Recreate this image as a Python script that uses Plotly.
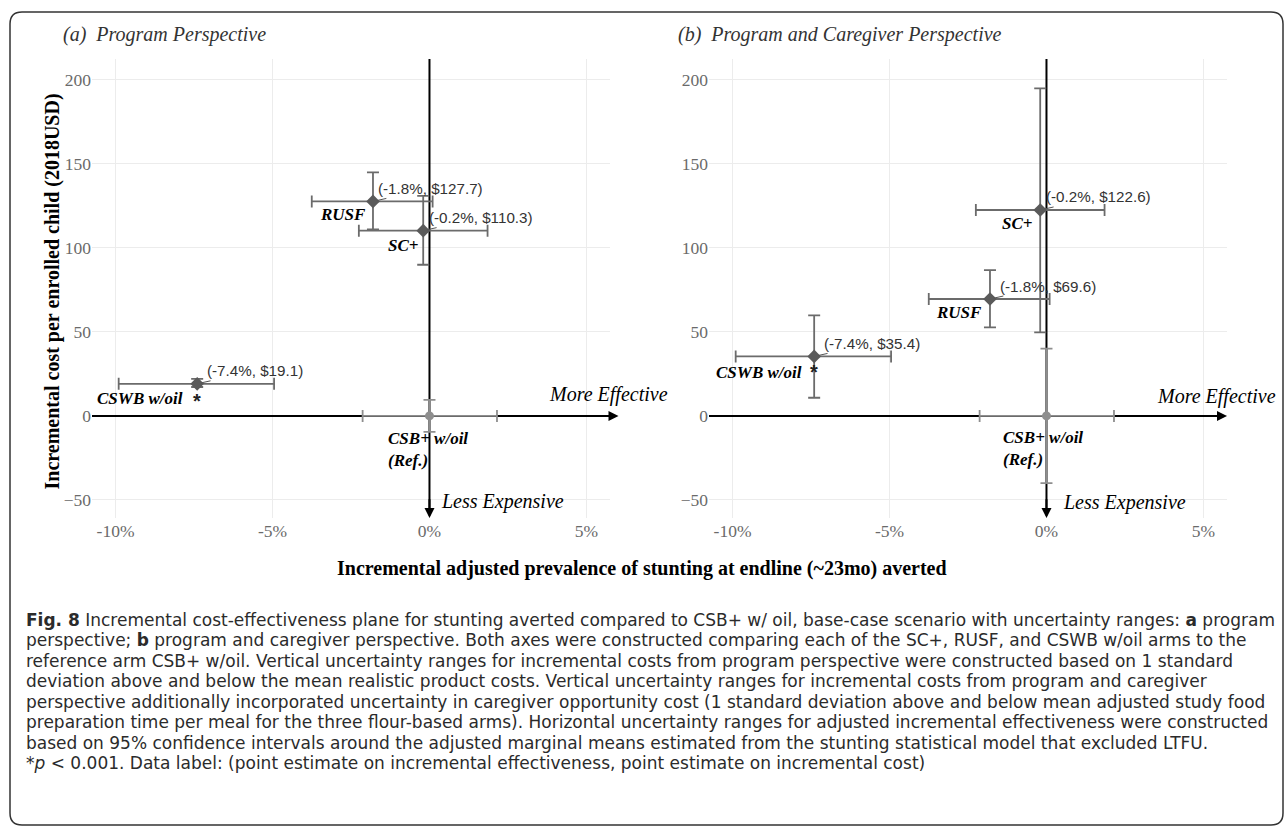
import plotly.graph_objects as go

# ---------------- data ----------------
arms = ["SC+", "RUSF", "CSWB w/oil"]
effect = [-0.2, -1.8, -7.4]
effect_low = [-2.25, -3.75, -9.9]
effect_high = [1.85, 0.1, -4.95]
cost_program = [110.3, 127.7, 19.1]
cost_program_low = [90.0, 111.0, 17.2]
cost_program_high = [131.0, 145.0, 22.0]
cost_caregiver = [122.6, 69.6, 35.4]
cost_caregiver_low = [49.7, 52.7, 10.8]
cost_caregiver_high = [195.0, 86.8, 59.9]
significant = [False, False, True]

ref_name = "CSB+ w/oil"
ref_effect = [0.0]
ref_effect_low = [-2.13]
ref_effect_high = [2.15]
ref_cost = [0.0]
ref_cost_program_low = [-9.5]
ref_cost_program_high = [9.5]
ref_cost_caregiver_low = [-40.0]
ref_cost_caregiver_high = [40.0]

x_ticks = [-10, -5, 0, 5]
x_tick_labels = ["-10%", "-5%", "0%", "5%"]
y_ticks = [-50, 0, 50, 100, 150, 200]

panel_titles = ["(a)\u00a0\u00a0Program Perspective",
                "(b)\u00a0\u00a0Program and Caregiver Perspective"]
y_title = "Incremental cost per enrolled child (2018USD)"
x_title = "Incremental adjusted prevalence of stunting at endline (~23mo) averted"

caption_lines = [
    "<b>Fig. 8</b> Incremental cost-effectiveness plane for stunting averted compared to CSB+ w/ oil, base-case scenario with uncertainty ranges: <b>a</b> program",
    "perspective; <b>b</b> program and caregiver perspective. Both axes were constructed comparing each of the SC+, RUSF, and CSWB w/oil arms to the",
    "reference arm CSB+ w/oil. Vertical uncertainty ranges for incremental costs from program perspective were constructed based on 1 standard",
    "deviation above and below the mean realistic product costs. Vertical uncertainty ranges for incremental costs from program and caregiver",
    "perspective additionally incorporated uncertainty in caregiver opportunity cost (1 standard deviation above and below mean adjusted study food",
    "preparation time per meal for the three flour-based arms). Horizontal uncertainty ranges for adjusted incremental effectiveness were constructed",
    "based on 95% confidence intervals around the adjusted marginal means estimated from the stunting statistical model that excluded LTFU.",
    "*<i>p</i> < 0.001. Data label: (point estimate on incremental effectiveness, point estimate on incremental cost)",
]

# ---------------- layout helpers ----------------
W, H = 1287, 829
def px(x):
    return x / W
def py(y):
    return 1 - y / H

X_RANGE = [-10.75, 5.75]
Y_RANGE = [-60.8, 212.5]

SERIF = "Liberation Serif"
SANS = "Liberation Sans"
ARM_COLOR = "#6b6b6b"
PT_COLOR = "#5a5a5a"
REF_COLOR = "#8e8e8e"

panels = [
    dict(xa="x", ya="y", cost=cost_program, lo=cost_program_low, hi=cost_program_high,
         rlo=ref_cost_program_low, rhi=ref_cost_program_high,
         name_pos={"SC+": (-0.84, 101.3), "RUSF": (-2.77, 119.8), "CSWB w/oil": (-9.21, 10.1)},
         star_dy=-10.2, ref_pos=(-1.38, -20.3), more=(5.69, 12.5), less=(2.32, -51.1),
         htip=6.02, title_x=61),
    dict(xa="x2", ya="y2", cost=cost_caregiver, lo=cost_caregiver_low, hi=cost_caregiver_high,
         rlo=ref_cost_caregiver_low, rhi=ref_cost_caregiver_high,
         name_pos={"SC+": (-0.93, 114.4), "RUSF": (-2.78, 61.8), "CSWB w/oil": (-9.17, 25.8)},
         star_dy=-9.2, ref_pos=(-1.44, -19.5), more=(5.40, 11.3), less=(2.48, -51.8),
         htip=5.75, title_x=676),
]

fig = go.Figure()
annotations = []
shapes = []

for p in panels:
    xa, ya = p["xa"], p["ya"]
    # reference arm
    fig.add_trace(go.Scatter(
        x=ref_effect, y=ref_cost, mode="markers", xaxis=xa, yaxis=ya, showlegend=False,
        marker=dict(symbol="circle", size=9, color=REF_COLOR),
        error_x=dict(type="data", symmetric=False,
                     array=[h - e for h, e in zip(ref_effect_high, ref_effect)],
                     arrayminus=[e - l for e, l in zip(ref_effect, ref_effect_low)],
                     color=REF_COLOR, thickness=1.8, width=6),
        error_y=dict(type="data", symmetric=False,
                     array=[h - c for h, c in zip(p["rhi"], ref_cost)],
                     arrayminus=[c - l for c, l in zip(ref_cost, p["rlo"])],
                     color=REF_COLOR, thickness=1.8, width=6),
        hoverinfo="skip"))
    # comparison arms
    fig.add_trace(go.Scatter(
        x=effect, y=p["cost"], mode="markers", xaxis=xa, yaxis=ya, showlegend=False,
        marker=dict(symbol="diamond", size=10.5, color=PT_COLOR),
        error_x=dict(type="data", symmetric=False,
                     array=[h - e for h, e in zip(effect_high, effect)],
                     arrayminus=[e - l for e, l in zip(effect, effect_low)],
                     color=ARM_COLOR, thickness=1.8, width=6),
        error_y=dict(type="data", symmetric=False,
                     array=[h - c for h, c in zip(p["hi"], p["cost"])],
                     arrayminus=[c - l for c, l in zip(p["cost"], p["lo"])],
                     color=ARM_COLOR, thickness=1.8, width=6),
        hoverinfo="skip"))

    # axis lines (beneath the data)
    shapes.append(dict(type="line", xref=xa, yref=ya, x0=X_RANGE[0], x1=p["htip"] - 0.2,
                       y0=0, y1=0, line=dict(color="black", width=2), layer="between"))
    shapes.append(dict(type="line", xref=xa, yref=ya, x0=0, x1=0,
                       y0=Y_RANGE[1], y1=Y_RANGE[0] + 4, line=dict(color="black", width=2),
                       layer="between"))
    # arrow heads
    annotations.append(dict(xref=xa, yref=ya, axref=xa, ayref=ya, x=p["htip"], y=0,
                            ax=p["htip"] - 0.6, ay=0, text="", showarrow=True, arrowhead=2,
                            arrowsize=1, arrowwidth=2, arrowcolor="black", standoff=0))
    annotations.append(dict(xref=xa, yref=ya, axref=xa, ayref=ya, x=0, y=Y_RANGE[0],
                            ax=0, ay=Y_RANGE[0] + 12, text="", showarrow=True, arrowhead=2,
                            arrowsize=1, arrowwidth=2, arrowcolor="black", standoff=0))

    # data labels with leader lines
    for arm, e, c in zip(arms, effect, p["cost"]):
        annotations.append(dict(xref=xa, yref=ya, x=e, y=c, ax=58, ay=-13,
                                text=f"({e:.1f}%, ${c:.1f})", showarrow=True, arrowhead=0,
                                arrowwidth=1, arrowcolor="#555555", standoff=4,
                                font=dict(family=SANS, size=15.2, color="#333333")))
    # arm names
    for arm in arms:
        nx, ny = p["name_pos"][arm]
        annotations.append(dict(xref=xa, yref=ya, x=nx, y=ny, text=f"<b><i>{arm}</i></b>",
                                showarrow=False, font=dict(family=SERIF, size=17, color="black")))
    # significance stars
    for e, c, s in zip(effect, p["cost"], significant):
        if s:
            annotations.append(dict(xref=xa, yref=ya, x=e, y=c + p["star_dy"], text="<b>*</b>",
                                    showarrow=False, font=dict(family=SANS, size=20, color="#222222")))
    # reference label
    annotations.append(dict(xref=xa, yref=ya, x=p["ref_pos"][0], y=p["ref_pos"][1],
                            text=f"<b><i>{ref_name}<br>(Ref.)</i></b>", align="left",
                            xanchor="left", showarrow=False,
                            font=dict(family=SERIF, size=17, color="black")))
    annotations.append(dict(xref=xa, yref=ya, x=p["more"][0], y=p["more"][1],
                            text="<i>More Effective</i>", showarrow=False,
                            font=dict(family=SERIF, size=20, color="black")))
    annotations.append(dict(xref=xa, yref=ya, x=p["less"][0], y=p["less"][1],
                            text="<i>Less Expensive</i>", showarrow=False,
                            font=dict(family=SERIF, size=20, color="black")))

# panel titles
for p, t in zip(panels, panel_titles):
    annotations.append(dict(xref="paper", yref="paper", x=px(p["title_x"]), y=py(35),
                            xanchor="left", yanchor="middle", text=f"<i>{t}</i>", showarrow=False,
                            font=dict(family=SERIF, size=20, color="#333333")))

# axis titles
annotations.append(dict(xref="paper", yref="paper", x=px(38), y=py(292), textangle=-90,
                        text=f"<b>{y_title}</b>", showarrow=False,
                        font=dict(family=SERIF, size=20, color="black")))
annotations.append(dict(xref="paper", yref="paper", x=px(642), y=py(582),
                        text=f"<b>{x_title}</b>", showarrow=False,
                        font=dict(family=SERIF, size=20, color="black")))

# caption
for i, line in enumerate(caption_lines):
    annotations.append(dict(xref="paper", yref="paper", x=px(25), y=py(620 + i * 20.45),
                            xanchor="left", yanchor="middle", text=line, showarrow=False,
                            borderpad=0,
                            font=dict(family="DejaVu Sans", size=17, color="#2b2b2b")))

# rounded frame
L, R, T, B, r = 10, 1283, 12, 825, 12
frame = (f"M {px(L + r)},{py(T)} L {px(R - r)},{py(T)} Q {px(R)},{py(T)} {px(R)},{py(T + r)} "
         f"L {px(R)},{py(B - r)} Q {px(R)},{py(B)} {px(R - r)},{py(B)} "
         f"L {px(L + r)},{py(B)} Q {px(L)},{py(B)} {px(L)},{py(B - r)} "
         f"L {px(L)},{py(T + r)} Q {px(L)},{py(T)} {px(L + r)},{py(T)} Z")
shapes.append(dict(type="path", xref="paper", yref="paper", path=frame,
                   line=dict(color="#333333", width=1.5), layer="above"))

tickfont = dict(family=SERIF, size=17.5, color="#6a6a6a")
xcommon = dict(range=X_RANGE, tickvals=x_ticks, ticktext=x_tick_labels, showgrid=True,
               gridcolor="#ececec", gridwidth=1, zeroline=False, showline=False, ticks="",
               tickfont=tickfont, fixedrange=True)
ycommon = dict(range=Y_RANGE, tickvals=y_ticks, showgrid=True, gridcolor="#ececec",
               gridwidth=1, zeroline=False, showline=False, ticks="", tickfont=tickfont,
               fixedrange=True, domain=[py(518), py(59)])

fig.update_layout(
    width=W, height=H, margin=dict(l=0, r=0, t=0, b=0),
    paper_bgcolor="white", plot_bgcolor="white", showlegend=False,
    xaxis=dict(domain=[px(92), px(610)], anchor="y", **xcommon),
    yaxis=dict(anchor="x", **ycommon),
    xaxis2=dict(domain=[px(709), px(1227)], anchor="y2", **xcommon),
    yaxis2=dict(anchor="x2", **ycommon),
    annotations=annotations, shapes=shapes,
)

fig.write_html("out.html", config={"displayModeBar": False},
               post_script="document.body.style.margin='0';document.body.style.overflow='hidden';")
